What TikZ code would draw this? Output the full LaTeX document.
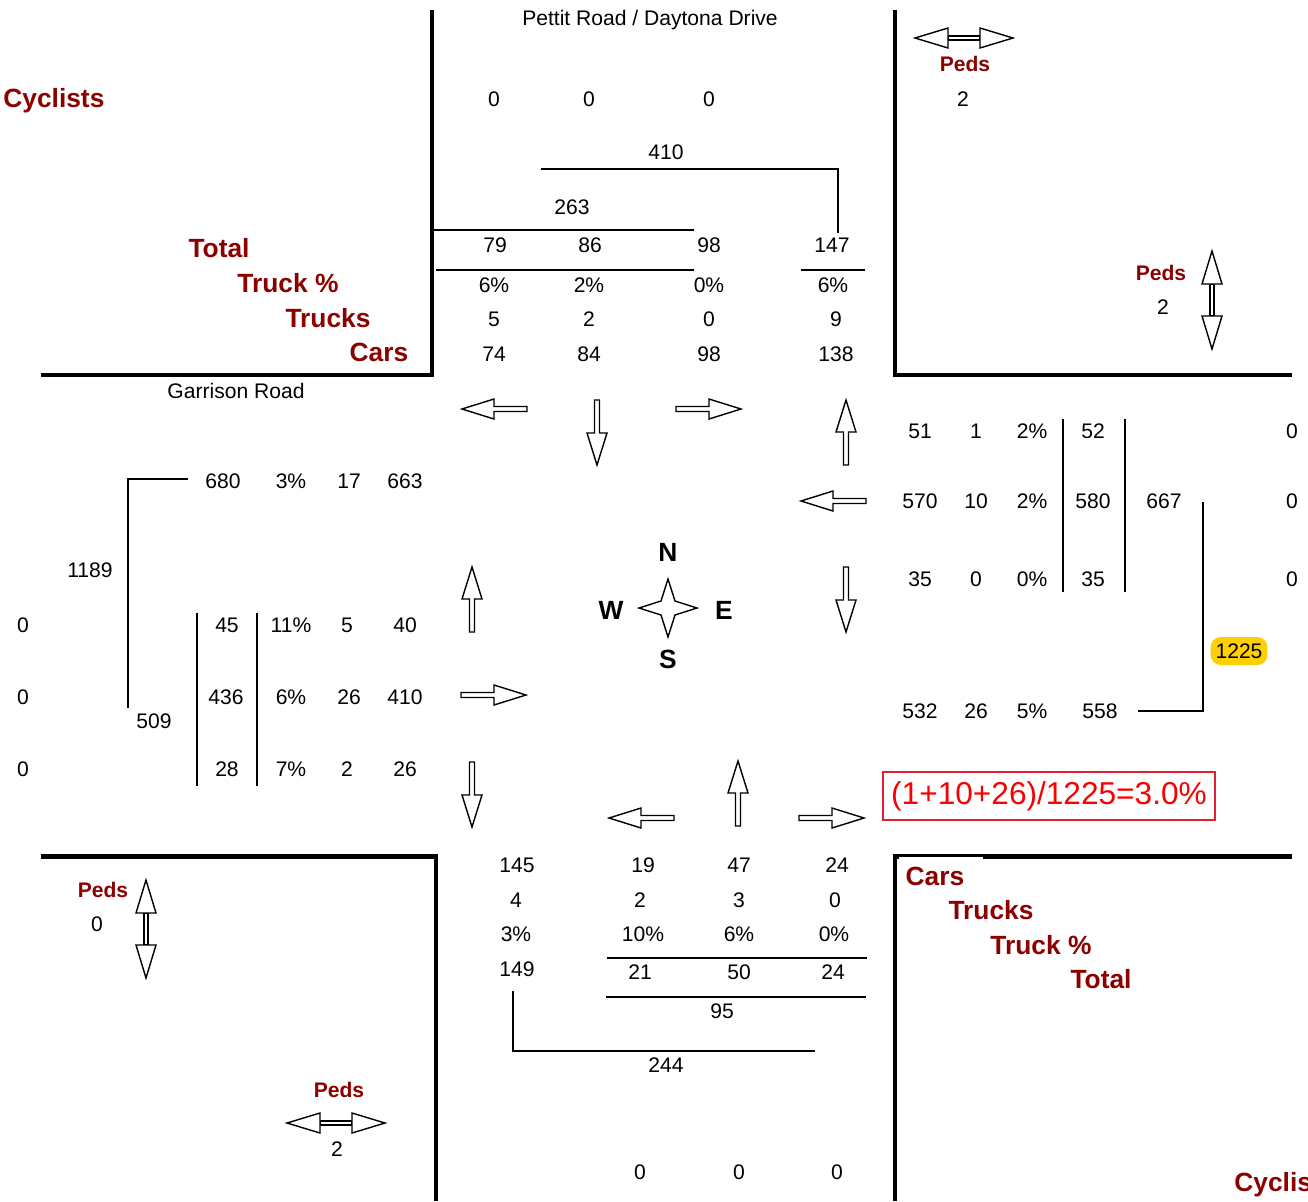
\documentclass[tikz,border=0pt]{standalone}
\usepackage{fontspec}
\setmainfont{Liberation Sans}
\definecolor{dred}{RGB}{140,0,0}
\definecolor{boxred}{RGB}{228,30,50}
\definecolor{txtred}{RGB}{250,0,0}
\definecolor{hiyellow}{RGB}{255,208,0}
\tikzset{
  num/.style={font=\fontsize{12}{14}\selectfont, inner sep=0pt},
  lbl/.style={text=dred, font=\bfseries\fontsize{15}{18}\selectfont, inner sep=0pt},
  pedlbl/.style={text=dred, font=\bfseries\fontsize{12}{14}\selectfont, inner sep=0pt},
  compass/.style={font=\bfseries\fontsize{15}{18}\selectfont, inner sep=0pt},
  road/.style={line width=2.83pt},
  thin/.style={line width=0.8pt},
  thinb/.style={line width=1.13pt},
  arrowline/.style={line width=0.8pt, fill=white, line join=miter},
  barrow/.pic={\draw[arrowline] (0,-2.5) -- (33,-2.5) -- (33,-10) -- (65,0) -- (33,10) -- (33,2.5) -- (0,2.5) -- cycle;},
  pedarrow/.pic={
    \draw[arrowline] (-16,-2) rectangle (16,2);
    \draw[arrowline] (-16,0) -- (-16,-10) -- (-49,0) -- (-16,10) -- cycle;
    \draw[arrowline] (16,0) -- (16,-10) -- (49,0) -- (16,10) -- cycle;}
}
\begin{document}
\begin{tikzpicture}[x=0.02cm,y=-0.02cm]
\useasboundingbox (0,0) rectangle (1308,1201);
% road edges
\draw[road] (432,10) -- (432,375) -- (41,375);
\draw[road] (895,10) -- (895,375) -- (1292,375);
\draw[road] (41,856) -- (436,856) -- (436,1201);
\draw[road] (1292,856) -- (895,856) -- (895,1201);

% titles
\node[num] (title) at (650,20) {Pettit Road / Daytona Drive};
\node[num] (garr) at (236,391) {Garrison Road};

% NW labels
\node[lbl, anchor=west] (cycNW) at (3,101) {Cyclists};
\node[lbl] (totNW) at (219,248) {Total};
\node[lbl] (tpNW) at (288,283) {Truck \%};
\node[lbl] (trNW) at (328,318) {Trucks};
\node[lbl] (carNW) at (379,352) {Cars};

% SE labels
\fill[white] (899,856.5) rectangle (983,892);
\node[lbl] (carSE) at (935,876) {Cars};
\node[lbl] (trSE) at (991,910) {Trucks};
\node[lbl] (tpSE) at (1041,945) {Truck \%};
\node[lbl] (totSE) at (1101,979) {Total};
\node[lbl, anchor=west] (cycSE) at (1234,1185) {Cyclists};

% North approach
\node[num] (nc1) at (494,99) {0};
\node[num] (nc2) at (589,99) {0};
\node[num] (nc3) at (709,99) {0};
\node[num] (n410) at (666,152) {410};
\node[num] (n263) at (572,207) {263};
\node[num] (nt1) at (495,245) {79};
\node[num] (nt2) at (590,245) {86};
\node[num] (nt3) at (709,245) {98};
\node[num] (nt4) at (832,245) {147};
\node[num] (np1) at (494,285) {6\%};
\node[num] (np2) at (589,285) {2\%};
\node[num] (np3) at (709,285) {0\%};
\node[num] (np4) at (833,285) {6\%};
\node[num] (nk1) at (494,319) {5};
\node[num] (nk2) at (589,319) {2};
\node[num] (nk3) at (709,319) {0};
\node[num] (nk4) at (836,319) {9};
\node[num] (na1) at (494,354) {74};
\node[num] (na2) at (589,354) {84};
\node[num] (na3) at (709,354) {98};
\node[num] (na4) at (836,354) {138};
\coordinate (nA) at (541,169);
\coordinate (nB) at (838,169);
\coordinate (nC) at (838,233);
\draw[thin] (nA) -- (nB) -- (nC);
\coordinate (nD) at (433,230);
\coordinate (nE) at (694,230);
\draw[thinb] (nD) -- (nE);
\coordinate (nF) at (436,270);
\coordinate (nG) at (694,270);
\draw[thin] (nF) -- (nG);
\coordinate (nH) at (801,270);
\coordinate (nI) at (865,270);
\draw[thin] (nH) -- (nI);

% NE peds
\pic at (964,38) {pedarrow};
\node[pedlbl] (pedNE1) at (965,64) {Peds};
\node[num] (pedNE1v) at (963,99) {2};
\pic[rotate=90] at (1212,300) {pedarrow};
\node[pedlbl] (pedNE2) at (1161,273) {Peds};
\node[num] (pedNE2v) at (1163,307) {2};

% SW peds
\pic[rotate=90] at (146,929) {pedarrow};
\node[pedlbl] (pedSW1) at (103,890) {Peds};
\node[num] (pedSW1v) at (97,924) {0};
\pic at (336,1123) {pedarrow};
\node[pedlbl] (pedSW2) at (339,1090) {Peds};
\node[num] (pedSW2v) at (337,1149) {2};

% movement arrows
\pic[rotate=180] at (527,409) {barrow};
\pic[rotate=270] at (597,400) {barrow};
\pic at (676,409) {barrow};
\pic[rotate=90] at (846,465) {barrow};
\pic[rotate=180] at (866,501) {barrow};
\pic[rotate=270] at (846,567) {barrow};
\pic[rotate=90] at (472,632) {barrow};
\pic at (461,695) {barrow};
\pic[rotate=270] at (472,762) {barrow};
\pic[rotate=180] at (674,818) {barrow};
\pic[rotate=90] at (738,826) {barrow};
\pic at (799,818) {barrow};

% compass
\draw[arrowline] (668,579) -- (675,601) -- (697,608) -- (675,615) -- (668,637) -- (661,615) -- (639,608) -- (661,601) -- cycle;
\node[compass] (cN) at (668,552) {N};
\node[compass] (cS) at (668,659) {S};
\node[compass] (cW) at (611,610) {W};
\node[compass] (cE) at (724,610) {E};

% West approach
\node[num] (w680) at (223,481) {680};
\node[num] (w3p) at (291,481) {3\%};
\node[num] (w17) at (349,481) {17};
\node[num] (w663) at (405,481) {663};
\node[num] (w1189) at (90,570) {1189};
\node[num] (wc1) at (23,625) {0};
\node[num] (wc2) at (23,697) {0};
\node[num] (wc3) at (23,769) {0};
\node[num] (wt1) at (227,625) {45};
\node[num] (wp1) at (291,625) {11\%};
\node[num] (wk1) at (347,625) {5};
\node[num] (wa1) at (405,625) {40};
\node[num] (wt2) at (226,697) {436};
\node[num] (wp2) at (291,697) {6\%};
\node[num] (wk2) at (349,697) {26};
\node[num] (wa2) at (405,697) {410};
\node[num] (w509) at (154,721) {509};
\node[num] (wt3) at (227,769) {28};
\node[num] (wp3) at (291,769) {7\%};
\node[num] (wk3) at (347,769) {2};
\node[num] (wa3) at (405,769) {26};
\coordinate (wA) at (188,479);
\coordinate (wB) at (128,479);
\coordinate (wC) at (128,708);
\draw[thin] (wA) -- (wB) -- (wC);
\coordinate (wD) at (197,613);
\coordinate (wE) at (197,786);
\draw[thin] (wD) -- (wE);
\coordinate (wF) at (257,613);
\coordinate (wG) at (257,786);
\draw[thin] (wF) -- (wG);

% East approach
\node[num] (ea1) at (920,431) {51};
\node[num] (ek1) at (976,431) {1};
\node[num] (ep1) at (1032,431) {2\%};
\node[num] (et1) at (1093,431) {52};
\node[num] (ec1) at (1292,431) {0};
\node[num] (ea2) at (920,501) {570};
\node[num] (ek2) at (976,501) {10};
\node[num] (ep2) at (1032,501) {2\%};
\node[num] (et2) at (1093,501) {580};
\node[num] (e667) at (1164,501) {667};
\node[num] (ec2) at (1292,501) {0};
\node[num] (ea3) at (920,579) {35};
\node[num] (ek3) at (976,579) {0};
\node[num] (ep3) at (1032,579) {0\%};
\node[num] (et3) at (1093,579) {35};
\node[num] (ec3) at (1292,579) {0};
\node[num, fill=hiyellow, rounded corners=5.7pt, minimum width=32.3pt, minimum height=15.9pt] (e1225) at (1239,651) {1225};
\node[num] (ea4) at (920,711) {532};
\node[num] (ek4) at (976,711) {26};
\node[num] (ep4) at (1032,711) {5\%};
\node[num] (e558) at (1100,711) {558};
\coordinate (eA) at (1063,419);
\coordinate (eB) at (1063,592);
\draw[thin] (eA) -- (eB);
\coordinate (eC) at (1125,419);
\coordinate (eD) at (1125,592);
\draw[thin] (eC) -- (eD);
\coordinate (eE) at (1203,502);
\coordinate (eF) at (1203,711);
\coordinate (eG) at (1138,711);
\draw[thin] (eE) -- (eF) -- (eG);

% red formula box
\node[draw=boxred, line width=1.13pt, text=txtred, font=\fontsize{18}{21}\selectfont, minimum width=189.3pt, minimum height=27.2pt, inner sep=0pt] (formula) at (1049,796) {(1+10+26)/1225=3.0\%};

% South approach
\node[num] (sa1) at (517,865) {145};
\node[num] (sa2) at (643,865) {19};
\node[num] (sa3) at (739,865) {47};
\node[num] (sa4) at (837,865) {24};
\node[num] (sk1) at (516,900) {4};
\node[num] (sk2) at (640,900) {2};
\node[num] (sk3) at (739,900) {3};
\node[num] (sk4) at (835,900) {0};
\node[num] (sp1) at (516,934) {3\%};
\node[num] (sp2) at (643,934) {10\%};
\node[num] (sp3) at (739,934) {6\%};
\node[num] (sp4) at (834,934) {0\%};
\node[num] (st1) at (517,969) {149};
\node[num] (st2) at (640,972) {21};
\node[num] (st3) at (739,972) {50};
\node[num] (st4) at (833,972) {24};
\node[num] (s95) at (722,1011) {95};
\node[num] (s244) at (666,1065) {244};
\node[num] (sc1) at (640,1172) {0};
\node[num] (sc2) at (739,1172) {0};
\node[num] (sc3) at (837,1172) {0};
\coordinate (sA) at (607,958);
\coordinate (sB) at (867,958);
\draw[thin] (sA) -- (sB);
\coordinate (sC) at (606,997);
\coordinate (sD) at (866,997);
\draw[thinb] (sC) -- (sD);
\coordinate (sE) at (513,991);
\coordinate (sF) at (513,1051);
\coordinate (sG) at (815,1051);
\draw[thin] (sE) -- (sF) -- (sG);
\end{tikzpicture}
\end{document}
